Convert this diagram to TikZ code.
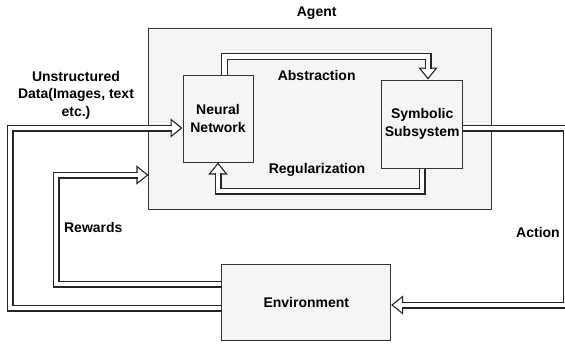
\documentclass[tikz,border=0pt]{standalone}
\usepackage{fontspec}
\setmainfont{Liberation Sans}
\usetikzlibrary{arrows.meta}
\tikzset{
  box/.style={draw=black!80, fill=black!4, line width=1pt, inner sep=0pt},
  txt/.style={font=\fontsize{14}{17.5}\selectfont\bfseries, align=center},
  flex/.style={draw=black!85, double=white, double distance=4.8pt, line width=1.1pt},
  flexhead/.style={line width=1.1pt, draw=black!85, -{Triangle[length=12pt, width=19pt, fill=white]}},
}
\begin{document}
\begin{tikzpicture}[x=1pt, y=-1pt]
    \useasboundingbox (0,0) rectangle (565,343);

    \node[box, minimum width=342.7, minimum height=181] (v3) at (320.3,118.5) {};
    \node[box, txt, minimum width=70, minimum height=87] (v1) at (218,118.5) {Neural\\Network};
    \node[box, txt, minimum width=81, minimum height=88] (v2) at (422.2,124) {Symbolic\\Subsystem};
    \node[box, txt, minimum width=168.7, minimum height=76.7] (v4) at (306.3,302.5) {Environment};

    \node[txt] (v5) at (316.7,13) {Agent};
    \node[txt] (v6) at (316.7,75) {Abstraction};
    \node[txt] (v7) at (317,169.5) {Regularization};
    \node[txt] (v8) at (76,95) {Unstructured\\Data(Images, text\\etc.)};
    \node[txt] (v9) at (93.3,227.7) {Rewards};
    \node[txt] (v10) at (538,232.7) {Action};

    \draw[flexhead] (171,128) -- (v1.west |- 0,128);
    \draw[flex] (v4.west |- 0,308) -| (10,128) -- (172,128);

    \draw[flexhead] (137,175) -- (v3.west |- 0,175);
    \draw[flex] (v4.west |- 0,284) -| (56,175) -- (138,175);

    \draw[flexhead] (403,305) -- (v4.east |- 0,305);
    \draw[flex] (v2.east |- 0,128) -| (566,305) -- (402,305);

    \draw[flexhead] (428,68) -- (v2.north -| 428,0);
    \draw[flex] (v1.north -| 224.7,0) |- (428,56.7) -- (428,69);

    \draw[flexhead] (218,174) -- (v1.south);
    \draw[flex] (v2.south -| 422,0) |- (218,191) -- (218,173);
\end{tikzpicture}
\end{document}
